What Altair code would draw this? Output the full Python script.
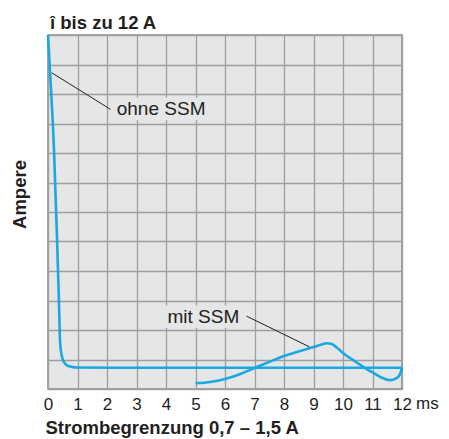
import altair as alt
import pandas as pd

# --- data ---
ohne_x = [0, 0.1, 0.2, 0.3, 0.37, 0.41, 0.46, 0.55, 0.65, 0.8, 1.0, 3, 12]
ohne_y = [12, 10.2, 8.2, 5.3, 3.0, 1.6, 1.15, 0.9, 0.8, 0.75, 0.73, 0.72, 0.72]

mit_x = [5, 5.5, 6, 6.5, 7, 7.5, 8, 8.5, 9, 9.25, 9.45, 9.6, 9.8, 10, 10.4, 10.75, 11, 11.3, 11.6, 11.8, 11.92, 12]
mit_y = [0.2, 0.24, 0.34, 0.5, 0.71, 0.92, 1.12, 1.27, 1.42, 1.5, 1.55, 1.53, 1.4, 1.22, 0.94, 0.71, 0.56, 0.39, 0.3, 0.36, 0.48, 0.71]

x_ticks = list(range(0, 13))
y_ticks = list(range(0, 13))

labels = ["ohne SSM", "mit SSM"]
label_x = [2.33, 4.05]
label_y = [9.5, 2.45]
box_x = [2.25, 3.97]
box_x2 = [5.4, 6.65]
box_y = [9.12, 2.08]
box_y2 = [9.88, 2.83]
lead_x = [0.125, 6.73]
lead_y = [10.72, 2.47]
lead_x2 = [2.12, 8.86]
lead_y2 = [9.48, 1.43]

title_top = "î bis zu 12 A"
title_x = "Strombegrenzung 0,7 – 1,5 A"
title_y = "Ampere"
unit = "ms"

LINE = "#1aa8e2"
BG = "#e5e6e8"
GRID = "#9e9e9e"
TXT = "#231f20"
FONT = "Liberation Sans"

curves = pd.DataFrame(
    {"x": ohne_x + mit_x, "y": ohne_y + mit_y,
     "s": ["ohne"] * len(ohne_x) + ["mit"] * len(mit_x),
     "o": list(range(len(ohne_x))) + list(range(len(mit_x)))}
)
ann = pd.DataFrame({"t": labels, "x": label_x, "y": label_y,
                    "bx": box_x, "bx2": box_x2, "by": box_y, "by2": box_y2,
                    "lx": lead_x, "ly": lead_y, "lx2": lead_x2, "ly2": lead_y2})

xs = alt.Scale(domain=[0, 12], nice=False, zero=False)
ys = alt.Scale(domain=[0, 12], nice=False, zero=False)

xaxis = alt.Axis(values=x_ticks, grid=True, ticks=False, domain=False,
                 gridColor=GRID, gridWidth=1.3, labelOverlap=False,
                 labelFontSize=17, labelFont=FONT, labelColor=TXT, labelPadding=7,
                 labelFlush=False,
                 title=title_x, titleFont=FONT, titleFontSize=18.5, titleFontWeight="bold",
                 titleColor=TXT, titleAnchor="start", titleAlign="left", titleX=-3,
                 titleY=44.5, titleBaseline="alphabetic")
yaxis = alt.Axis(values=y_ticks, grid=True, ticks=False, domain=False, labels=False,
                 gridColor=GRID, gridWidth=1.3,
                 title=title_y, titleFont=FONT, titleFontSize=18.5, titleFontWeight="bold",
                 titleColor=TXT, titleAngle=-90, titleX=-29, titleY=159,
                 titleAlign="center", titleBaseline="middle")


def X(f):
    return alt.X(f, scale=xs, axis=xaxis)


def Y(f):
    return alt.Y(f, scale=ys, axis=yaxis)


lines = alt.Chart(curves).mark_line(color=LINE, strokeWidth=2.6, interpolate="monotone").encode(
    x=X("x:Q"), y=Y("y:Q"), detail="s:N", order="o:Q",
)

boxes = alt.Chart(ann).mark_rect(color=BG).encode(
    x=X("bx:Q"), x2="bx2", y=Y("by:Q"), y2="by2")

leads = alt.Chart(ann).mark_rule(color=TXT, strokeWidth=1).encode(
    x=X("lx:Q"), x2="lx2", y=Y("ly:Q"), y2="ly2")

texts = alt.Chart(ann).mark_text(align="left", baseline="middle", font=FONT,
                                 fontSize=19, color=TXT).encode(
    x=X("x:Q"), y=Y("y:Q"), text="t:N")

ms = alt.Chart(pd.DataFrame({"x": [12], "y": [0], "t": [unit]})).mark_text(
    align="left", baseline="top", font=FONT, fontSize=17, color=TXT,
    dx=14, dy=7, clip=False).encode(x=X("x:Q"), y=Y("y:Q"), text="t:N")

top = alt.Chart(pd.DataFrame({"x": [0], "y": [12], "t": [title_top]})).mark_text(
    align="left", baseline="alphabetic", font=FONT, fontSize=18.5, fontWeight="bold",
    color=TXT, dx=2, dy=-6, clip=False).encode(x=X("x:Q"), y=Y("y:Q"), text="t:N")

chart = alt.layer(lines, boxes, leads, texts, ms, top).properties(
    width=354, height=354,
    padding={"left": 40, "top": 27, "right": 39, "bottom": 50},
    autosize=alt.AutoSizeParams(type="none"),
    background="white",
).configure_view(fill=BG, stroke="#8a8a8a", strokeWidth=1.5)

chart.save("out.html", embed_options={"renderer": "svg", "actions": False})
